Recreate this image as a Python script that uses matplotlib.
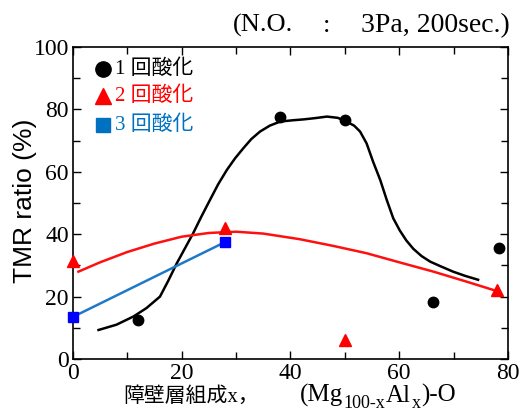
import matplotlib
matplotlib.use("Agg")
import matplotlib.pyplot as plt

plt.rcParams['font.family'] = ['Liberation Serif', 'Noto Sans CJK JP']

# data points
x1 = [12, 38, 50, 66.3, 78.3]
y1 = [12.5, 77.5, 76.5, 18.4, 35.5]
x2 = [0, 28, 50, 78]
y2 = [31.5, 42, 6, 22]
x3 = [0, 28]
y3 = [13.5, 37.5]

# hand-drawn trend curves
c1x = [4.7, 8, 11.1, 13.5, 16, 17.5, 19.1, 20.6, 22.1, 23.6, 25.2, 26.7, 28.3, 29.8, 31.3, 32.8,
       34.4, 36.2, 38.1, 40.3, 42.4, 44.5, 46.7, 48.7, 50.3, 51.7, 52.8, 54.0, 55.2, 56.5, 57.7,
       58.9, 60.1, 61.3, 62.6, 64.1, 65.7, 67.5, 69.9, 72.2, 74.5]
c1y = [9.3, 11, 13.6, 16.3, 20, 25, 30.7, 35.5, 40.3, 45.6, 51, 56, 60.6, 64.3, 67.5, 70.5,
       72.9, 74.8, 76.1, 76.5, 76.8, 77.2, 77.7, 77.3, 76.1, 74.8, 72.9, 69.1, 63.2, 57.4, 51,
       45.1, 41.2, 38, 35.3, 33, 31.2, 29.8, 28, 26.6, 25.4]
c2x = [1, 5, 10, 15, 20, 25, 30, 35, 41.7, 48, 54, 60, 66.3, 72, 77.9]
c2y = [28, 31, 34.3, 37, 39.2, 40.4, 40.8, 40.2, 38.4, 36.2, 33.9, 31, 28, 25, 21.8]
c3x = [0, 28]
c3y = [13.5, 37.5]

legend_labels = ['1 回酸化', '2 回酸化', '3 回酸化']

xticks = [0, 20, 40, 60, 80]
yticks = [0, 20, 40, 60, 80, 100]

BLUE_LINE = '#1f78c8'
BLUE_LEG = '#0070c0'
RED = '#ff0000'

W, H = 525, 419
fig = plt.figure(figsize=(W / 100, H / 100), dpi=100)
ax = fig.add_axes([0.139, 0.1432, 0.8286, 0.7446])

ax.plot(c1x, c1y, color='black', lw=1.8, zorder=2, solid_joinstyle='round')
ax.plot(c2x, c2y, color='#ff1010', lw=1.8, zorder=2, solid_joinstyle='round')
ax.plot(c3x, c3y, color=BLUE_LINE, lw=1.8, zorder=2)

ax.plot(x1, y1, 'o', color='black', ms=7.5, ls='none', zorder=3, clip_on=False)
ax.plot(x2, y2, '^', color=RED, ms=8, ls='none', zorder=3, clip_on=False)
ax.plot(x3, y3, 's', color='#0000ff', ms=7, ls='none', zorder=3, clip_on=False)

ax.set_xlim(0, 80)
ax.set_ylim(0, 100)
ax.set_xticks(xticks)
ax.set_yticks(yticks)
ax.set_xticks(range(10, 80, 20), minor=True)
ax.set_yticks(range(10, 100, 20), minor=True)
ax.tick_params(which='both', direction='in', top=True, right=True, width=1.0)
ax.tick_params(which='major', length=6, labelsize=17, pad=3)
ax.tick_params(which='minor', length=5)
for s in ax.spines.values():
    s.set_linewidth(1.2)

ax.set_ylabel('TMR ratio (%)', family='Liberation Sans', fontsize=19)
ax.yaxis.set_label_coords(-0.083, 0.508)

renderer = fig.canvas.get_renderer()

# x label: CJK part + formula built from pieces
base = 1 - 402 / H
fig.text(123 / W, base, '障壁層組成x，', fontsize=15, va='baseline', ha='left')
pieces = [('(Mg', 18, 0), ('100-x', 13, -6), ('Al', 18, 0), ('x', 13, -6), (')-O', 18, 0)]
xp = 300
for txt, size, dy in pieces:
    t = fig.text(xp / W, base + dy / H, txt, fontsize=size, va='baseline', ha='left')
    xp = t.get_window_extent(renderer).x1 + 0.5

# condition note at top right
tb = 1 - 32 / H
fig.text(233 / W, tb, '(N.O.', fontsize=19, va='baseline', ha='left')
fig.text(327 / W, tb, ':', fontsize=19, va='baseline', ha='center')
fig.text(510 / W, tb, '3Pa, 200sec.)', fontsize=20, va='baseline', ha='right')

# legend drawn manually
leg_y = [92.9, 84.3, 75.0]
leg_colors = ['black', RED, BLUE_LEG]
leg_markers = ['o', '^', 's']
leg_ms = [11, 12, 10]
for yy, c, m, ms, lab in zip(leg_y, leg_colors, leg_markers, leg_ms, legend_labels):
    ax.plot([5.5], [yy], marker=m, color=c, ms=ms, ls='none', zorder=4)
    ax.text(7.7, yy, lab, color=c, fontsize=15, va='center', ha='left', zorder=4)

fig.savefig('out.png', dpi=100)
